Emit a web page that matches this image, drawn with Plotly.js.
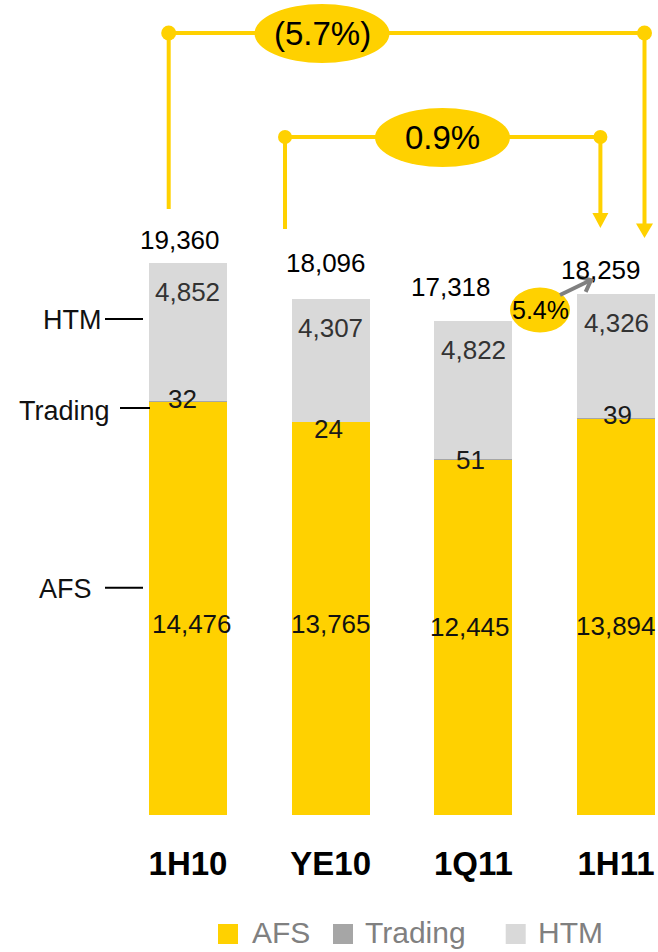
<!DOCTYPE html>
<html>
<head>
<meta charset="utf-8">
<script src="https://cdn.plot.ly/plotly-3.0.1.min.js"></script>
<style>
  html, body { margin: 0; padding: 0; background: #fff; }
  #chart { width: 658px; height: 952px; }
</style>
</head>
<body>
<div id="chart"></div>
<script>
// ---- data ----
const categories = ['1H10', 'YE10', '1Q11', '1H11'];
const afs = [14476, 13765, 12445, 13894];
const trading = [32, 24, 51, 39];
const htm = [4852, 4307, 4822, 4326];
const totals = [19360, 18096, 17318, 18259];
const changeLabels = ['(5.7%)', '0.9%', '5.4%'];
const seriesNames = ['AFS', 'Trading', 'HTM'];

// ---- style ----
const colors = { AFS: '#FFD100', Trading: '#A6A6A6', HTM: '#D9D9D9' };
const yellow = '#FFD100';
const W = 658, PH = 815, H = 952;
const X = px => px / W;
const Y = py => 1 - py / PH;
const fmt = v => v.toLocaleString('en-US');
const FONT = 'Liberation Sans, Arial, sans-serif';

const idx = categories.map((c, i) => i);
const barW = 0.547;

const traces = [
  { name: 'AFS', type: 'bar', x: idx, y: afs, width: barW, marker: { color: colors.AFS }, hoverinfo: 'skip' },
  { name: 'Trading', type: 'bar', x: idx, y: trading, width: barW, marker: { color: colors.Trading }, hoverinfo: 'skip' },
  { name: 'HTM', type: 'bar', x: idx, y: htm, width: barW, marker: { color: colors.HTM }, hoverinfo: 'skip' }
];

const annotations = [];
// totals
const totShiftX = [-8, -5, -22, -15];
const totShiftY = [23, 36, 34, 24];
totals.forEach((t, i) => annotations.push({
  x: i, y: t, xref: 'x', yref: 'y', text: fmt(t), showarrow: false,
  xshift: totShiftX[i], yshift: totShiftY[i], yanchor: 'middle',
  font: { family: FONT, size: 26, color: '#000' }
}));
// HTM labels
htm.forEach((v, i) => annotations.push({
  x: i, y: afs[i] + trading[i] + v, xref: 'x', yref: 'y', text: fmt(v), showarrow: false,
  yshift: -29, yanchor: 'middle', font: { family: FONT, size: 26, color: '#333' }
}));
// Trading labels
const trShiftX = [-5, -2, -3, 1.5];
const trShiftY = [2, -7.5, -1, 2.3];
trading.forEach((v, i) => annotations.push({
  x: i, y: afs[i] + v, xref: 'x', yref: 'y', text: fmt(v), showarrow: false,
  xshift: trShiftX[i], yshift: trShiftY[i], yanchor: 'middle',
  font: { family: FONT, size: 26, color: '#1a1a1a' }
}));
// AFS labels
const afsShiftX = [4, 0, -3, 0];
const afsShiftY = [191, 191, 188, 189];
afs.forEach((v, i) => annotations.push({
  x: i, y: 0, xref: 'x', yref: 'y', text: fmt(v), showarrow: false,
  xshift: afsShiftX[i], yshift: afsShiftY[i], yanchor: 'middle',
  font: { family: FONT, size: 26, color: '#111' }
}));

// left side series labels
const sideLabels = [
  { t: 'HTM', right: 103, y: 320, l0: 105, l1: 143, ly: 319 },
  { t: 'Trading', right: 112, y: 411, l0: 120, l1: 150, ly: 408 },
  { t: 'AFS', right: 94, y: 589, l0: 105, l1: 143, ly: 587.7 }
];
const shapes = [];
sideLabels.forEach(s => {
  annotations.push({ x: X(s.right), y: Y(s.y), xref: 'paper', yref: 'paper', text: s.t, showarrow: false,
    xanchor: 'right', yanchor: 'middle', font: { family: FONT, size: 27, color: '#111' } });
  shapes.push({ type: 'line', xref: 'paper', yref: 'paper', x0: X(s.l0), x1: X(s.l1), y0: Y(s.ly), y1: Y(s.ly),
    line: { color: '#000', width: 2 } });
});

// bracket helpers
function line(x0, y0, x1, y1, color, w) {
  shapes.push({ type: 'line', xref: 'paper', yref: 'paper', x0: X(x0), y0: Y(y0), x1: X(x1), y1: Y(y1),
    line: { color: color, width: w } });
}
function dot(cx, cy, r, color) {
  shapes.push({ type: 'circle', xref: 'paper', yref: 'paper', x0: X(cx - r), x1: X(cx + r), y0: Y(cy + r), y1: Y(cy - r),
    fillcolor: color, line: { width: 0 } });
}
function ellipse(cx, cy, rx, ry, color) {
  shapes.push({ type: 'circle', xref: 'paper', yref: 'paper', x0: X(cx - rx), x1: X(cx + rx), y0: Y(cy + ry), y1: Y(cy - ry),
    fillcolor: color, line: { width: 0 } });
}
function downTri(tx, ty, hw, h, color) {
  shapes.push({ type: 'path', xref: 'paper', yref: 'paper',
    path: `M ${X(tx - hw)} ${Y(ty - h)} L ${X(tx + hw)} ${Y(ty - h)} L ${X(tx)} ${Y(ty)} Z`,
    fillcolor: color, line: { width: 0 } });
}

// outer bracket (1H10 -> 1H11)
line(168.7, 209, 168.7, 33, yellow, 4);
line(168.7, 33, 644.5, 33, yellow, 4);
line(644.5, 33, 644.5, 226, yellow, 4);
downTri(644.5, 238, 8.5, 14.5, yellow);
dot(168.7, 33, 7.5, yellow);
dot(644.5, 33, 7.5, yellow);
ellipse(322, 33.5, 67.5, 29.5, yellow);

// inner bracket (YE10 -> 1H11)
line(285, 229, 285, 137, yellow, 4);
line(285, 137, 600.4, 137, yellow, 4);
line(600.4, 137, 600.4, 216, yellow, 4);
downTri(600.4, 228, 8, 15, yellow);
dot(285, 137, 7, yellow);
dot(600.4, 137, 7, yellow);
ellipse(442.5, 137.5, 67.5, 29.5, yellow);

// small change (1Q11 -> 1H11)
ellipse(540, 310, 30, 22.5, yellow);
(function grayArrow() {
  const tail = [560, 295], tip = [591, 280];
  const dx = tip[0] - tail[0], dy = tip[1] - tail[1];
  const L = Math.hypot(dx, dy), ux = dx / L, uy = dy / L;
  const arm = 13, ang = 40 * Math.PI / 180;
  const rot = (a) => [-(ux * Math.cos(a) - uy * Math.sin(a)), -(ux * Math.sin(a) + uy * Math.cos(a))];
  const a1 = rot(ang), a2 = rot(-ang);
  line(tail[0], tail[1], tip[0], tip[1], '#808080', 4);
  shapes.push({ type: 'path', xref: 'paper', yref: 'paper',
    path: `M ${X(tip[0] + a1[0] * arm)} ${Y(tip[1] + a1[1] * arm)} L ${X(tip[0])} ${Y(tip[1])} L ${X(tip[0] + a2[0] * arm)} ${Y(tip[1] + a2[1] * arm)}`,
    line: { color: '#808080', width: 4 } });
})();

// change labels
[[322, 33.5, 33], [442.5, 137.5, 33], [540, 310, 25]].forEach((p, i) => annotations.push({
  x: X(p[0]), y: Y(p[1]), xref: 'paper', yref: 'paper', text: changeLabels[i], showarrow: false,
  xanchor: 'center', yanchor: 'middle', font: { family: FONT, size: p[2], color: '#000' }
}));

// legend (manual, to match the large square swatches)
const legendPos = [[218, 249.5], [333, 363], [505.7, 536]];
seriesNames.forEach((n, i) => {
  const [sx, tx] = legendPos[i];
  shapes.push({ type: 'rect', xref: 'paper', yref: 'paper', x0: X(sx), x1: X(sx + 20), y0: Y(944), y1: Y(924),
    fillcolor: colors[n], line: { width: 0 } });
  annotations.push({ x: X(tx), y: Y(932), xref: 'paper', yref: 'paper', text: n, showarrow: false,
    xanchor: 'left', yanchor: 'middle', font: { family: FONT, size: 30, color: '#808080' } });
});

const layout = {
  width: W, height: H,
  margin: { l: 0, r: 0, t: 0, b: H - PH, pad: 0 },
  paper_bgcolor: '#fff', plot_bgcolor: '#fff',
  barmode: 'stack', bargap: 0,
  showlegend: false,
  xaxis: {
    range: [-1.3177, 3.2944], tickmode: 'array', tickvals: idx, ticktext: categories,
    showgrid: false, zeroline: false, showline: false, ticks: '', fixedrange: true,
    tickfont: { family: FONT, size: 33, color: '#000', weight: 700 }, ticklabelstandoff: 26
  },
  yaxis: { range: [0, 28576], visible: false, fixedrange: true, showgrid: false, zeroline: false },
  shapes: shapes,
  annotations: annotations,
  hovermode: false
};

Plotly.newPlot('chart', traces, layout, { staticPlot: true, displayModeBar: false });
</script>
</body>
</html>
